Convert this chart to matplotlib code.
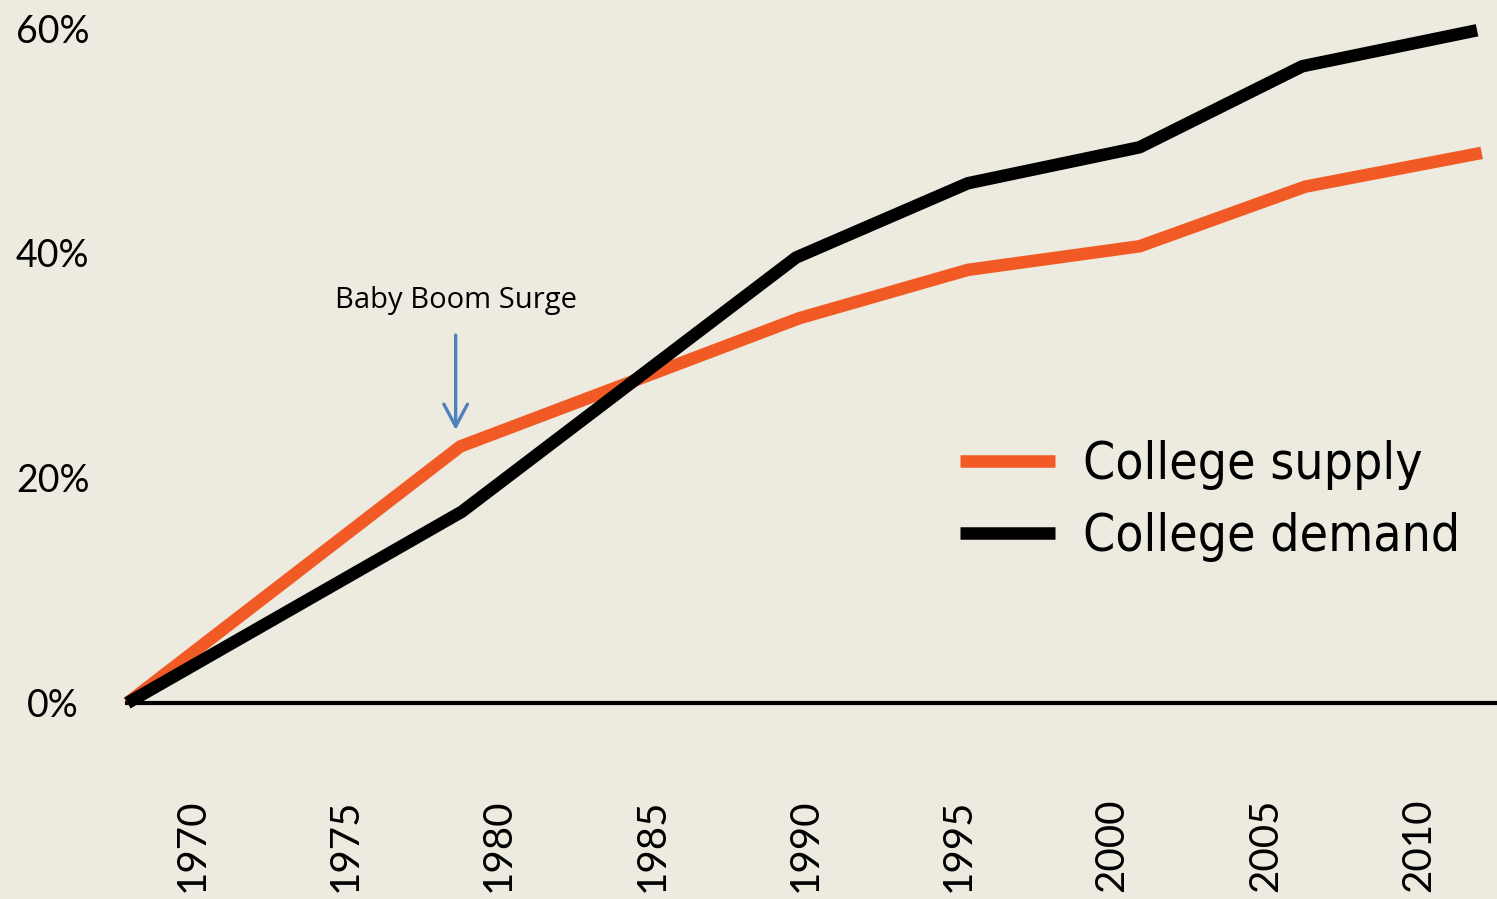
import matplotlib
matplotlib.use("Agg")
import matplotlib.pyplot as plt
from matplotlib import font_manager

# Data
supply_years = [1967.9, 1978.75, 1989.8, 1995.3, 2000.9, 2006.3, 2012.05]
supply_vals = [0.0, 22.8, 34.2, 38.5, 40.6, 45.9, 48.9]
demand_years = [1967.9, 1978.8, 1989.7, 1995.3, 2000.9, 2006.2, 2011.9]
demand_vals = [0.0, 17.0, 39.6, 46.2, 49.4, 56.6, 59.8]
xtick_years = [1970, 1975, 1980, 1985, 1990, 1995, 2000, 2005, 2010]
ytick_vals = [0, 20, 40, 60]
ytick_labels = ["0%", "20%", "40%", "60%"]
series_labels = ["College supply", "College demand"]
annotation_text = "Baby Boom Surge"
annotation_year = 1978.6

BG = "#EDEAE0"
ORANGE = "#F15A24"
BLACK = "#000000"
ARROW = "#4F81BD"

# pick a condensed face if one is installed
cond = None
for f in font_manager.fontManager.ttflist:
    if f.name == "DejaVu Sans" and "ondensed" in str(f.stretch) and f.weight in (400, "normal") and f.style == "normal":
        cond = f.fname
        break

W, H = 1497, 899
fig = plt.figure(figsize=(W / 100, H / 100), dpi=100, facecolor=BG)
ax = fig.add_axes([125 / W, (H - 760) / H, (W - 125) / W, 760 / H])
ax.set_facecolor(BG)

ax.set_xlim(1967.82, 2012.55)
ax.set_ylim(-5.07, 62.49)

ax.axhline(0, color=BLACK, lw=3, zorder=1)
l1, = ax.plot(supply_years, supply_vals, color=ORANGE, lw=9,
              solid_capstyle="butt", solid_joinstyle="round", zorder=2,
              clip_on=False, label=series_labels[0])
l2, = ax.plot(demand_years, demand_vals, color=BLACK, lw=9,
              solid_capstyle="butt", solid_joinstyle="round", zorder=3,
              clip_on=False, label=series_labels[1])

for s in ax.spines.values():
    s.set_visible(False)

ax.set_xticks(xtick_years)
ax.set_xticklabels([str(y) for y in xtick_years], rotation=90,
                   fontsize=29, family=["Lato", "DejaVu Sans"])
ax.set_yticks(ytick_vals)
ax.set_yticklabels(ytick_labels, fontsize=27, family=["Lato", "DejaVu Sans"],
                   ha="center")
ax.tick_params(axis="x", length=0, pad=28)
ax.tick_params(axis="y", length=0, pad=52)

ax.annotate("", xy=(annotation_year, 24.27), xytext=(annotation_year, 32.7),
            arrowprops=dict(arrowstyle="->,head_length=1.6,head_width=0.85",
                            color=ARROW, lw=2.4, shrinkA=0, shrinkB=0))
ax.text(annotation_year, 34.45, annotation_text, fontsize=21,
        family=["Open Sans", "DejaVu Sans"], ha="center", va="bottom")

if cond:
    lprop = font_manager.FontProperties(fname=cond, size=37)
else:
    lprop = font_manager.FontProperties(family=["Lato", "DejaVu Sans"], size=35)

leg = ax.legend(handles=[l1, l2], loc="upper left",
                bbox_to_anchor=((960 - 125) / (W - 125), (760 - 440) / 760),
                frameon=False, handlelength=1.85,
                handletextpad=0.55, labelspacing=0.42, borderaxespad=0,
                borderpad=0, prop=lprop)

fig.savefig("out.png", dpi=100, facecolor=BG)
